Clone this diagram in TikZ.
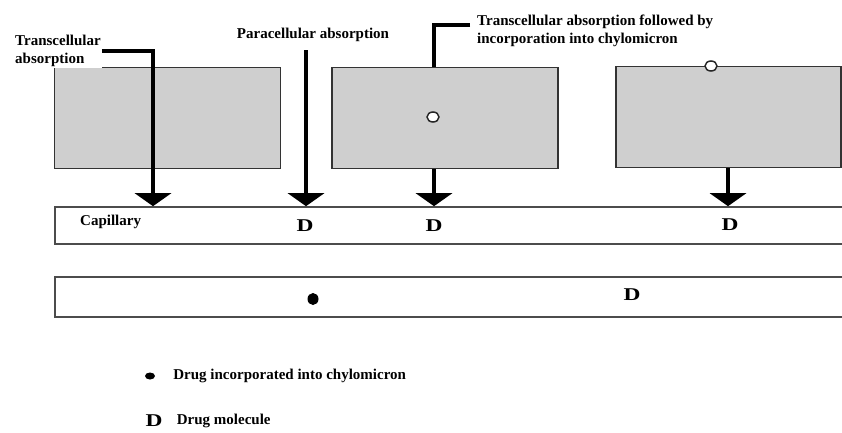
\documentclass[tikz,border=0pt]{standalone}
\usepackage{fontspec}
\setmainfont{Liberation Serif}
\usepackage{tikz}
\usetikzlibrary{calc}
\usetikzlibrary{positioning}
\usetikzlibrary{arrows.meta}
\usetikzlibrary{shapes.geometric}

\newcommand{\drugD}{\scalebox{1.3}[1]{D}}

\tikzset{
  cell/.style={draw=black!80,line width=1.6pt,fill=black!19,minimum width=226pt,minimum height=101pt,inner sep=0pt},
  capbox/.style={draw=black!70,line width=1.6pt,minimum width=795pt,inner sep=0pt},
  lbl/.style={font=\bfseries\fontsize{15}{18}\selectfont,align=left,inner sep=1pt},
  dmol/.style={font=\bfseries\fontsize{18}{18}\selectfont,inner sep=0pt},
  opendrug/.style={ellipse,draw=black!85,line width=1.5pt,fill=white,minimum width=12pt,minimum height=10pt,inner sep=0pt},
  chylodot/.style={ellipse,fill=black,inner sep=0pt},
  bigline/.style={line width=4pt},
  bigarrow/.style={line width=4pt,-{Triangle[width=36pt,length=13pt]}},
}

\begin{document}
\begin{tikzpicture}[x={(1pt,0)},y={(0,-1pt)}]
\useasboundingbox (0,0) rectangle (842,432);
\clip (0,0) rectangle (842,432);

% epithelial cells
\node[cell] (cell1) at (167.5,118) {};
\node[cell] (cell2) at (445,118) {};
\node[cell,minimum width=225pt] (cell3) at (728.5,117) {};

% capillaries
\node[capbox,minimum height=37pt] (cap1) at (452.5,225.5) {};
\node[capbox,minimum height=40pt] (cap2) at (452.5,297) {};

\node[lbl,anchor=west] (caplbl) at (79,222) {Capillary};

% labels on top
\node[lbl,anchor=west,fill=white] (trans) at (14,51) {Transcellular\\absorption};
\node[lbl] (para) at (313,35) {Paracellular absorption};
\node[lbl,anchor=west] (chylo) at (476,31) {Transcellular absorption followed by\\incorporation into chylomicron};

% drug molecules
\node[opendrug] (mol1) at (433,117) {};
\node[opendrug] (mol2) at (711,66) {};

\node[dmol] (d1) at (305,226) {\drugD};
\node[dmol] (d2) at (434,226) {\drugD};
\node[dmol] (d3) at (730,225) {\drugD};
\node[dmol] (d4) at (632,295) {\drugD};
\node[chylodot,minimum width=11pt,minimum height=12pt] (dot1) at (313,299) {};

% arrows
\coordinate (t1) at (153,0);
\coordinate (p1) at (306,50);
\coordinate (c1) at (470,25);
\coordinate (c2) at (434,0);
\coordinate (c3) at (728,0);

\draw[bigarrow] (trans.east) -| (t1 |- cap1.north);
\draw[bigarrow] (p1) -- (p1 |- cap1.north);
\draw[bigline] (c1) -| (c2 |- cell2.north);
\draw[bigarrow] (c2 |- cell2.south) -- (c2 |- cap1.north);
\draw[bigarrow] (c3 |- cell3.south) -- (c3 |- cap1.north);

% legend
\node[chylodot,minimum width=10pt,minimum height=7pt] (legdot) at (150,376) {};
\node[lbl,right=17pt of legdot] (legtxt1) {Drug incorporated into chylomicron};
\node[dmol] (legd) at (154,421) {\drugD};
\node[lbl,right=13pt of legd] (legtxt2) {Drug molecule};
\end{tikzpicture}
\end{document}
